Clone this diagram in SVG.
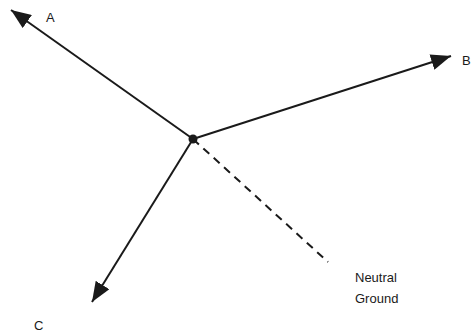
<svg xmlns="http://www.w3.org/2000/svg" width="473" height="334" viewBox="0 0 473 334">
<style>
.ln{stroke:#1a1a1a;stroke-width:2;fill:none}
.ds{stroke:#1a1a1a;stroke-width:2;fill:none;stroke-dasharray:8,6}
.t{font-family:"Liberation Sans",Arial,sans-serif;font-size:13px;fill:#1a1a1a}
</style>
<defs>
<marker id="ah" viewBox="0 0 20 16" refX="20" refY="8" markerWidth="20" markerHeight="16" markerUnits="userSpaceOnUse" orient="auto">
<path d="M0,0 L20,8 L0,16 Z" fill="#1a1a1a"/>
</marker>
</defs>
<g id="connectors">
<line class="ln" x1="193" y1="139" x2="11" y2="10" marker-end="url(#ah)"/>
<line class="ln" x1="193" y1="139" x2="451" y2="56" marker-end="url(#ah)"/>
<line class="ln" x1="193" y1="139" x2="92" y2="302" marker-end="url(#ah)"/>
<line class="ds" x1="193" y1="139" x2="328" y2="262"/>
</g>
<g id="center"><circle cx="193" cy="139" r="4.5" fill="#1a1a1a"/></g>
<g id="A"><text class="t" x="46" y="22">A</text></g>
<g id="B"><text class="t" x="462" y="65">B</text></g>
<g id="C"><text class="t" x="34" y="330">C</text></g>
<g id="N"><text class="t" x="355" y="282">Neutral</text><text class="t" x="355" y="303">Ground</text></g>
</svg>
